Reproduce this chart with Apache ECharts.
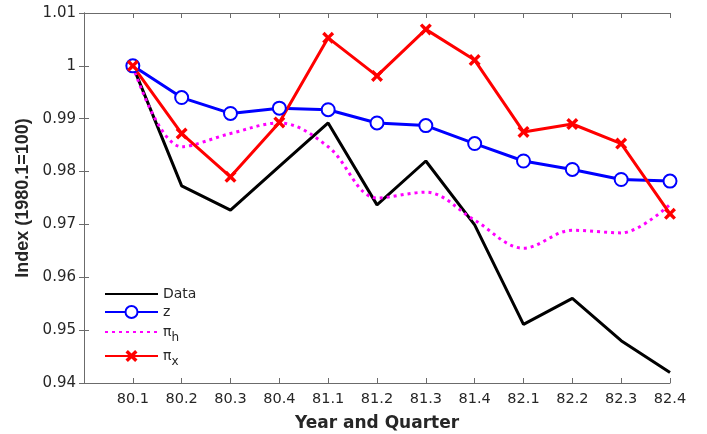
<!DOCTYPE html>
<html>
<head>
<meta charset="utf-8">
<script src="https://cdn.jsdelivr.net/npm/echarts@6/dist/echarts.min.js"></script>
<style>
  html, body { margin: 0; padding: 0; background: #fff; }
  #chart { width: 707px; height: 434px; }
</style>
</head>
<body>
<div id="chart"></div>
<script>
// quarters on the x axis
const quarters = ['80.1', '80.2', '80.3', '80.4', '81.1', '81.2', '81.3', '81.4', '82.1', '82.2', '82.3', '82.4'];
const yTicks = [0.94, 0.95, 0.96, 0.97, 0.98, 0.99, 1, 1.01];

// series values
const dataVals = [1.0, 0.9773, 0.9727, 0.981, 0.9892, 0.9737, 0.982, 0.9699, 0.9511, 0.956, 0.948, 0.942];
const zVals = [1.0, 0.994, 0.991, 0.992, 0.9917, 0.9892, 0.9887, 0.9853, 0.982, 0.9804, 0.9785, 0.9782];
const piH = [1.0, 0.9847, 0.9872, 0.9892, 0.9847, 0.975, 0.9761, 0.9708, 0.9655, 0.9689, 0.9684, 0.9738];
const piX = [1.0, 0.9872, 0.979, 0.9893, 1.0053, 0.9981, 1.0069, 1.0011, 0.9875, 0.989, 0.9853, 0.972];

// the source picture is a bit stretched sideways, DejaVu is the closer width
const FONT = "'DejaVu Sans', 'Liberation Sans', sans-serif";
const FONT_V = "'Liberation Sans', Arial, sans-serif";
const AXIS_COLOR = '#6b6b6b';
const TEXT_COLOR = '#262626';
const CROSS = 'path://M2,0 L5,3 L8,0 L10,2 L7,5 L10,8 L8,10 L5,7 L2,10 L0,8 L3,5 L0,2 Z';

const toPoints = vals => vals.map((v, i) => [i + 1, v]);

const chart = echarts.init(document.getElementById('chart'), null, { renderer: 'canvas' });

const xBase = {
  type: 'value',
  min: 0,
  max: quarters.length,
  interval: 1,
  splitLine: { show: false },
  axisLine: { show: true, lineStyle: { color: AXIS_COLOR, width: 1 } },
  axisTick: { show: true, inside: true, length: 5, lineStyle: { color: AXIS_COLOR } },
};
const yBase = {
  type: 'value',
  min: yTicks[0],
  max: yTicks[yTicks.length - 1],
  interval: 0.01,
  splitLine: { show: false },
  axisLine: { show: true, lineStyle: { color: AXIS_COLOR, width: 1 } },
  axisTick: { show: true, inside: true, length: 5, lineStyle: { color: AXIS_COLOR } },
};

const legendBase = {
  orient: 'vertical',
  left: 104,
  padding: 0,
  itemWidth: 53,
  itemHeight: 15,
  textStyle: {
    fontFamily: FONT,
    fontSize: 14,
    color: TEXT_COLOR,
    rich: {
      p: { fontFamily: FONT, fontSize: 14, color: TEXT_COLOR },
      s: { fontFamily: FONT, fontSize: 12, color: TEXT_COLOR, padding: [12, 0, 0, 0] },
    },
  },
  formatter: name => {
    if (name === 'πh') return '{p|π}{s|h}';
    if (name === 'πx') return '{p|π}{s|x}';
    return name;
  },
};
// no marker in the legend for the plain lines
const noMark = { itemStyle: { color: 'rgba(0,0,0,0)', borderWidth: 0 } };

chart.setOption({
  animation: false,
  backgroundColor: '#fff',
  grid: { left: 84, right: 37, top: 13, bottom: 51, outerBoundsMode: 'none' },
  xAxis: [
    Object.assign({}, xBase, {
      position: 'bottom',
      name: 'Year and Quarter',
      nameLocation: 'middle',
      nameGap: 32,
      nameTextStyle: { fontFamily: FONT, fontSize: 17, fontWeight: 'bold', color: TEXT_COLOR },
      axisLabel: {
        margin: 9,
        fontFamily: FONT,
        fontSize: 14.5,
        color: TEXT_COLOR,
        formatter: v => quarters[v - 1] || '',
      },
    }),
    Object.assign({}, xBase, { position: 'top', axisLabel: { show: false } }),
  ],
  yAxis: [
    Object.assign({}, yBase, {
      position: 'left',
      name: 'Index (1980.1=100)',
      nameLocation: 'middle',
      nameGap: 51,
      nameTextStyle: { fontFamily: FONT_V, fontSize: 18, fontWeight: 'bold', color: TEXT_COLOR },
      axisLabel: {
        margin: 8,
        fontFamily: FONT,
        fontSize: 15,
        color: TEXT_COLOR,
        formatter: v => String(+v.toFixed(2)),
      },
    }),
    Object.assign({}, yBase, { position: 'right', axisLabel: { show: false } }),
  ],
  legend: [
    Object.assign({}, legendBase, noMark, { data: ['Data'], top: 287 }),
    Object.assign({}, legendBase, { data: ['z'], top: 305 }),
    Object.assign({}, legendBase, noMark, { data: ['πh'], top: 325 }),
    Object.assign({}, legendBase, { data: ['πx'], top: 349 }),
  ],
  series: [
    {
      name: 'Data',
      type: 'line',
      data: toPoints(dataVals),
      symbol: 'none',
      lineStyle: { color: '#000', width: 3 },
      itemStyle: { color: '#000' },
    },
    {
      name: 'z',
      type: 'line',
      data: toPoints(zVals),
      symbol: 'emptyCircle',
      symbolSize: 13,
      lineStyle: { color: '#0000ff', width: 3 },
      itemStyle: { color: '#0000ff', borderWidth: 3 },
    },
    {
      name: 'πh',
      type: 'line',
      data: toPoints(piH),
      symbol: 'none',
      smooth: 0.35,
      lineStyle: { color: '#ff00ff', width: 3, type: [3, 4] },
      itemStyle: { color: '#ff00ff' },
    },
    {
      name: 'πx',
      type: 'line',
      data: toPoints(piX),
      symbol: CROSS,
      symbolSize: 12,
      lineStyle: { color: '#ff0000', width: 3 },
      itemStyle: { color: '#ff0000' },
    },
  ],
});
</script>
</body>
</html>
